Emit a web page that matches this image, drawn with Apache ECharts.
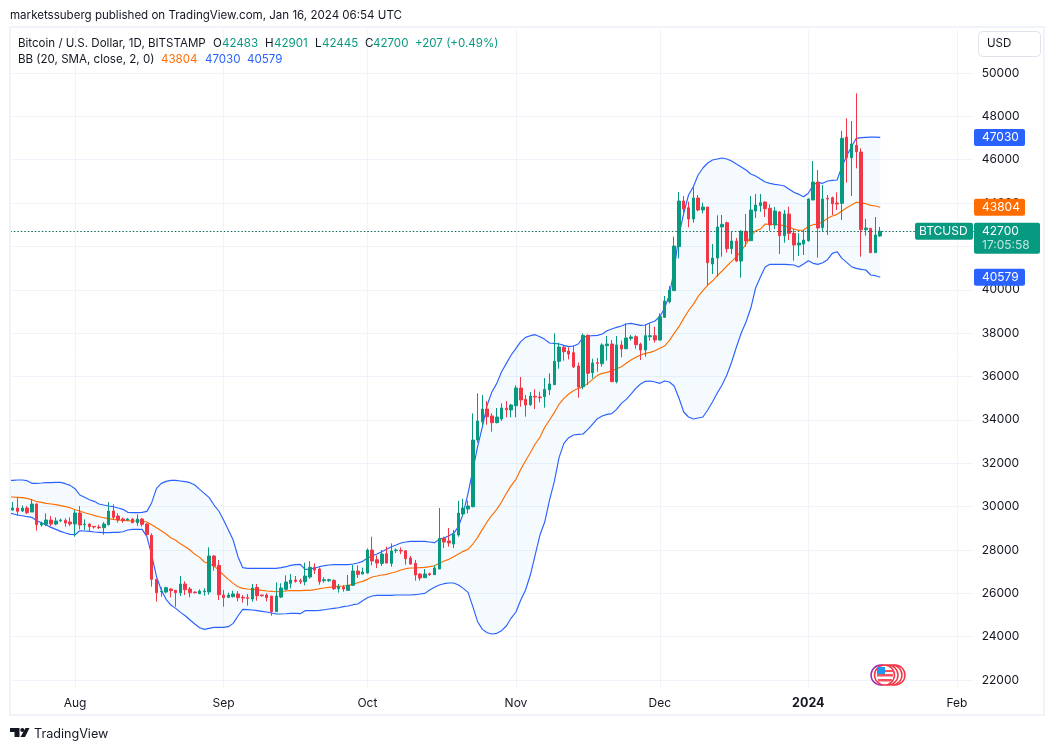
<!DOCTYPE html>
<html><head><meta charset="utf-8">
<style>html,body{margin:0;padding:0;background:#fff}#c{width:1054px;height:751px}</style>
<script src="https://cdn.jsdelivr.net/npm/echarts@6/dist/echarts.min.js"></script>
</head><body><div id="c"></div>
<script>
const opens=[29841,29933,29795,29933,29749,30118,29149,29180,29380,29195,
29349,29364,29287,29195,29702,29164,29195,29087,29057,29026,
29164,29795,29564,29426,29380,29426,29257,29426,29195,28672,
26642,26073,26058,26196,26135,26027,26427,26196,26058,25981,
26073,26058,27719,27288,25920,25812,25843,25966,25812,25797,
25735,26273,25920,25920,25874,25151,25827,26181,26458,26612,
26581,26535,26750,27196,27119,26581,26581,26597,26212,26289,
26135,26366,27027,26889,26935,27996,27550,27381,27827,27381,
27965,27980,27965,27627,27381,26889,26720,26904,26858,27119,
28534,28411,28273,28688,29657,29887,29995,33070,33916,34500,
34177,33870,34039,34531,34454,34654,35469,34946,34700,35085,
35054,35069,35392,35623,36699,37345,37176,37099,36484,35531,
37899,36176,36638,36592,37422,37499,35761,37453,37284,37760,
37837,37484,37222,37837,37883,37683,38728,39451,39959,41988,
44095,43787,43265,44233,43680,43818,41189,41465,42896,43095,
41896,42250,41327,42696,42265,43634,43880,44049,43757,42988,
43587,42496,43495,42603,42065,42111,42265,44141,44971,42865,
44218,44249,44003,43987,47047,46094,46663,46355,42772,42834,
41711,42483];
const closes=[29933,29779,29933,29718,30118,29164,29226,29380,29195,29333,
29380,29241,29195,29702,29149,29195,29072,29057,29026,29195,
29795,29503,29380,29349,29426,29257,29426,29180,28703,26642,
26027,26104,26258,26120,26027,26427,26166,26027,26027,26104,
26104,27719,27257,25935,25797,25920,25966,25797,25781,25766,
26243,25889,25889,25797,25151,25874,26243,26519,26612,26550,
26535,26796,27196,27073,26535,26627,26627,26212,26304,26197,
26366,27027,26873,26981,27996,27488,27396,27811,27396,27950,
27996,27950,27596,27350,26843,26704,26889,26858,27165,28534,
28365,28319,28734,29703,29933,30026,33070,33947,34500,34147,
33870,34131,34546,34470,34685,35469,34916,34685,35100,35054,
35023,35408,35654,36699,37360,37145,37038,36438,35515,37899,
36146,36622,36607,37453,37499,35761,37453,37268,37776,37822,
37468,37222,37883,37883,37683,38759,39482,39989,42019,44095,
43726,43265,44233,43680,43818,41250,41465,42896,43019,41896,
42250,41327,42696,42250,43680,43910,44018,43741,42988,43633,
42496,43495,42603,42065,42157,42296,44187,44971,42849,44187,
44187,43972,43956,46986,46094,46724,46371,42772,42849,41711,
42526,42700];
const lows=[29810,29564,29749,29656,29749,28887,29072,29103,29103,29133,
29287,29072,29103,28611,28949,28918,28826,28980,28964,28703,
29133,29410,29257,29257,29349,29241,29103,29072,28672,26304,
25612,25843,25997,25812,25381,25874,25920,25812,25997,25966,
25889,25935,27042,25689,25381,25797,25812,25628,25566,25428,
25612,25658,25843,25628,24966,25135,25781,26120,26227,26489,
26427,26366,26673,26889,26397,26489,26520,26151,26028,26074,
26105,26335,26704,26873,26919,27288,27165,27258,27381,27227,
27857,27811,27319,27319,26581,26581,26704,26796,26843,27119,
28088,28150,28088,28611,29534,29687,29964,32947,33716,33778,
33455,33839,33947,34116,34116,34116,34608,34147,34639,34500,
34808,34562,35146,35608,36361,36730,36792,36392,35023,35408,
35608,35915,36223,36453,36730,35761,35684,36884,37253,37653,
37284,36761,36915,37653,37560,37652,38713,39374,39959,41450,
43464,42880,43095,43618,43526,40220,40727,40604,41527,41712,
41650,41281,40558,41988,42265,43311,43603,43357,42726,42803,
41650,42173,42296,41342,41558,41604,42219,44141,41481,42680,
42526,43449,43680,43218,44941,44326,45602,41527,42496,41711,
41711,42445];
const highs=[30210,30425,30056,30025,30333,30148,29303,29687,29564,29503,
29441,29456,29503,29841,30025,29410,29226,29103,29164,29287,
30210,30102,29687,29503,29472,29456,29641,29472,29226,28764,
26642,26273,26304,26227,26150,26796,26550,26289,26073,26181,
26227,28119,27765,27534,26150,26027,26120,26104,25920,25966,
26427,26427,25935,25997,25874,26504,26458,26827,26888,26796,
26673,27412,27488,27381,27196,26735,26673,26643,26427,26381,
26843,27304,27288,27181,28073,28611,27750,27996,28150,28303,
28073,28119,27965,27719,27535,26919,27119,26950,27288,29933,
28611,29011,28918,30272,30364,30272,34300,35223,35146,34869,
34300,34546,34762,34869,34731,35592,35977,35146,35285,35408,
35300,35930,36146,37991,37560,37453,37345,37437,36638,37991,
37945,36822,36853,37530,37868,37683,37868,37653,38452,37914,
37899,37560,38421,38452,38298,38913,39712,40174,42450,44510,
44326,44064,44725,44372,44018,43818,42111,43434,43449,43142,
42696,42388,42757,43495,44326,44418,44418,44064,43941,43818,
43633,43680,43833,42803,42603,42757,44218,45940,45525,44833,
44372,44295,44495,47324,47908,47785,49062,46524,43264,42834,
43357,42901];
// Bollinger values: first entry is the day before the first visible candle
const bbUpper=[31210,31209,31225,31225,31194,31071,31071,31086,31102,31102,31117,
31117,31056,30979,30825,30533,30425,30317,30241,30118,30071,
30025,29995,29933,29872,29733,29718,29718,29733,29779,30179,
30840,31071,31163,31209,31209,31179,31148,31102,30994,30794,
30610,30410,30071,29795,29380,28918,28457,27688,27181,27150,
27150,27150,27150,27150,27150,27150,27181,27227,27288,27319,
27335,27104,27119,27165,27227,27273,27304,27319,27319,27319,
27319,27350,27396,27473,27611,27734,27811,27919,28027,28150,
28227,28319,28365,28396,28396,28396,28396,28365,28334,28488,
28549,28657,28765,29072,29687,30610,31686,32763,33685,34685,
35300,35684,36223,36607,36991,37299,37606,37806,37883,37929,
37837,37714,37545,37530,37499,37437,37376,37407,37499,37806,
37868,37883,37899,37960,38114,38191,38268,38329,38421,38452,
38406,38360,38375,38483,38560,38759,39144,39759,40912,42527,
43526,44372,44756,45294,45618,45848,45987,46033,46079,46033,
45941,45802,45664,45525,45341,45249,45110,44972,44910,44864,
44833,44787,44633,44495,44402,44295,44449,44833,44956,44910,
45017,45048,45063,45679,46186,46601,46986,47016,47032,47040,
47040,47030];
const bbMid=[30450,30440,30425,30410,30379,30317,30225,30194,30148,30118,30087,
30041,29995,29948,29856,29795,29718,29656,29595,29533,29487,
29441,29410,29380,29364,29349,29333,29333,29333,29287,29164,
29026,28887,28734,28565,28442,28288,28149,27996,27796,27657,
27442,27365,27257,27073,26842,26642,26458,26304,26227,26196,
26181,26166,26135,26104,26089,26073,26089,26104,26120,26120,
26120,26135,26135,26166,26212,26243,26274,26304,26320,26335,
26366,26412,26489,26550,26643,26750,26796,26843,26873,26935,
26996,27073,27135,27165,27165,27181,27196,27227,27273,27381,
27488,27565,27688,27811,27934,28027,28273,28580,28949,29303,
29610,29872,30210,30610,30964,31256,31717,32117,32486,32886,
33193,33655,33993,34331,34731,34992,35192,35346,35454,35531,
35684,35869,36053,36146,36192,36269,36361,36453,36607,36761,
36884,36991,37068,37114,37191,37299,37406,37652,37990,38298,
38682,39036,39328,39682,39959,40220,40404,40650,40866,41096,
41312,41527,41788,42111,42450,42726,42800,43034,43018,43018,
42988,42957,42895,42803,42742,42757,42926,43003,43034,43141,
43295,43403,43480,43633,43787,43910,44033,44018,43972,43895,
43864,43804];
const bbLower=[29690,29672,29610,29579,29533,29503,29349,29257,29149,29041,28949,
28857,28780,28718,28703,28887,28872,28857,28826,28811,28796,
28796,28811,28811,28841,28918,28949,28949,28949,28611,27765,
26765,26150,25720,25458,25305,25120,24966,24766,24582,24413,
24336,24382,24428,24428,24428,24459,24613,24951,25258,25243,
25228,25197,25166,25135,25089,25043,25043,25058,25074,25074,
25060,25197,25197,25197,25212,25243,25274,25304,25335,25382,
25412,25474,25505,25658,25797,25874,25905,25905,25905,25905,
25920,25920,25920,25920,25935,25966,25997,26151,26274,26381,
26443,26474,26474,26381,26227,26043,25382,24690,24336,24182,
24121,24152,24275,24490,24859,25136,25690,26150,26843,27765,
28688,29287,30302,31148,32271,32916,33178,33301,33332,33347,
33562,33808,34054,34177,34254,34285,34485,34762,34946,35192,
35454,35654,35777,35792,35746,35684,35792,35746,35561,35008,
34362,34131,34039,34085,34131,34454,34823,35238,35608,36069,
36668,37360,38006,38514,39159,40082,40590,41050,41173,41173,
41173,41173,41158,41142,41050,41189,41342,41219,41173,41250,
41389,41681,41757,41450,41265,41065,40988,40943,40912,40681,
40650,40579];
const monthTicks={'2023-08-01':'Aug','2023-09-01':'Sep','2023-10-01':'Oct','2023-11-01':'Nov','2023-12-01':'Dec','2024-01-01':'2024','2024-02-01':'Feb'};
const lastClose=42700, tagUpper=47030, tagMid=43804, tagLower=40579;

const GREEN='#089981',RED='#f23645',BLUE='#2962ff',ORANGE='#ff6d00',GRID='#f0f3fa',INK='#131722',FONT='Inter, "Noto Sans", sans-serif';
const TOTAL_DAYS=202;
const categories=[];
for(let i=0;i<TOTAL_DAYS;i++){categories.push(new Date(Date.UTC(2023,6,18+i)).toISOString().slice(0,10));}
const candleRows=[['-','-','-','-']].concat(opens.map((o,i)=>[o,closes[i],lows[i],highs[i]]));
const bandWidth=bbUpper.map((u,i)=>u-bbLower[i]);
const isTick=(i,v)=>v in monthTicks;

const chart=echarts.init(document.getElementById('c'),null,{renderer:'canvas'});
const plainLine=(name,data,color)=>({name,type:'line',data,symbol:'none',silent:true,z:2,lineStyle:{color,width:1.15},itemStyle:{color}});
chart.setOption({
 animation:false,backgroundColor:'#fff',textStyle:{fontFamily:FONT},
 grid:{left:10.3,top:29.64,width:963.4,height:650.36,containLabel:false},
 xAxis:{type:'category',data:categories,min:1,boundaryGap:true,
  axisLine:{show:false},
  axisTick:{show:true,alignWithLabel:true,length:8,interval:isTick,lineStyle:{color:GRID,width:1}},
  splitLine:{show:true,alignWithLabel:true,interval:isTick,lineStyle:{color:GRID,width:1}},
  axisLabel:{interval:isTick,margin:17,color:INK,fontSize:12,fontFamily:FONT,hideOverlap:false,
   formatter:v=>{const t=monthTicks[v];return t==='2024'?'{b|2024}':(t||'');},
   rich:{b:{fontWeight:'bold',fontSize:12.5,color:INK,fontFamily:FONT}}}},
 yAxis:{type:'value',position:'right',min:22000,max:52000,interval:2000,scale:true,
  axisLine:{show:false},axisTick:{show:false},
  splitLine:{show:true,showMaxLine:false,lineStyle:{color:GRID,width:1}},
  axisLabel:{margin:8,color:INK,fontSize:12,fontFamily:FONT,showMaxLabel:false,padding:[2,0,0,0],formatter:v=>String(v)}},
 series:[
  {name:'bandBase',type:'line',stack:'bb',data:bbLower,symbol:'none',silent:true,lineStyle:{opacity:0},z:1},
  {name:'bandFill',type:'line',stack:'bb',data:bandWidth,symbol:'none',silent:true,lineStyle:{opacity:0},areaStyle:{color:'rgba(33,150,243,0.05)',opacity:1},z:1},
  plainLine('Upper',bbUpper,BLUE),
  plainLine('Lower',bbLower,BLUE),
  plainLine('Basis',bbMid,ORANGE),
  {name:'BTCUSD',type:'candlestick',data:candleRows,barWidth:3,z:3,silent:true,
   itemStyle:{color:GREEN,color0:RED,borderColor:GREEN,borderColor0:RED,borderWidth:1},
   markLine:{silent:true,symbol:'none',animation:false,label:{show:false},
    lineStyle:{color:'#0b6b5c',type:[1.5,2],width:1.2},data:[{yAxis:lastClose}]}}
 ]
});

const yOf=v=>chart.convertToPixel({yAxisIndex:0},v);
const TS=11.55;
const txt=(x,y,text,fill,size,extra)=>({type:'text',x,y,z:50,style:Object.assign({text,fill,font:(size||TS)+'px '+FONT,textVerticalAlign:'middle',textAlign:'left'},extra||{})});
const rect=(x,y,w,h,fill,r)=>({type:'rect',z:49,shape:{x,y,width:w,height:h,r:r||0},style:{fill}});
const tag=(v,color)=>{const y=yOf(v);return [rect(974,y-8.5,51,17,color,2),txt(982,y+0.5,String(v),'#fff',12)];};
const priceY=yOf(lastClose);
const elems=[
 {type:'rect',z:40,shape:{x:10,y:27,width:1034,height:688},style:{fill:'none',stroke:GRID,lineWidth:2}},
 txt(10,16,'marketssuberg published on TradingView.com, Jan 16, 2024 06:54 UTC',INK),
 txt(18,43.5,'Bitcoin / U.S. Dollar, 1D, BITSTAMP',INK),
 txt(213,43.5,'O',INK),txt(222,43.5,'42483',GREEN),
 txt(265,43.5,'H',INK),txt(274,43.5,'42901',GREEN),
 txt(315,43.5,'L',INK),txt(322,43.5,'42445',GREEN),
 txt(365,43.5,'C',INK),txt(373,43.5,'42700',GREEN),
 txt(415,43.5,'+207 (+0.49%)',GREEN),
 txt(18,60,'BB (20, SMA, close, 2, 0)',INK),
 txt(161,60,'43804',ORANGE),txt(205,60,'47030',BLUE),txt(247,60,'40579',BLUE),
 {type:'rect',z:49,shape:{x:978.5,y:31.5,width:62,height:25,r:4},style:{fill:'#fff',stroke:'#e0e3eb',lineWidth:1}},
 txt(987,44,'USD',INK),
 ...tag(tagUpper,BLUE),...tag(tagMid,ORANGE),...tag(tagLower,BLUE),
 rect(915,priceY-8.5,58,17,GREEN,2),
 txt(919,priceY+0.5,'BTCUSD','#fff',12),
 rect(974,priceY-8.5,66,31,GREEN,2),
 txt(982,priceY+0.5,String(lastClose),'#fff',12),
 txt(982,priceY+14.5,'17:05:58','rgba(255,255,255,0.75)',12),
 // event markers
 {type:'circle',z:45,shape:{cx:881,cy:675,r:10},style:{fill:'#fff',stroke:'#9c27b0',lineWidth:1.5}},
 {type:'circle',z:45,shape:{cx:895,cy:675,r:10},style:{fill:'#fff',stroke:'#f23645',lineWidth:1.5}},
 {type:'circle',z:45,shape:{cx:892,cy:675,r:10},style:{fill:'#fff',stroke:'#f23645',lineWidth:1.5}},
 {type:'circle',z:45,shape:{cx:888,cy:675,r:10},style:{fill:'#fff',stroke:'#f23645',lineWidth:1.5}},
 {type:'circle',z:45,shape:{cx:884.5,cy:675,r:10},style:{fill:'#fff',stroke:'#f23645',lineWidth:1.5}},
 {type:'rect',z:46,shape:{x:877,y:670,width:16,height:2},style:{fill:'#f7525f'}},
 {type:'rect',z:46,shape:{x:877,y:674,width:16,height:2.5},style:{fill:'#f7525f'}},
 {type:'rect',z:46,shape:{x:878,y:679,width:14,height:2.5},style:{fill:'#f7525f'}},
 {type:'rect',z:47,shape:{x:877,y:667,width:8,height:7},style:{fill:'#2196f3'}},
 // brand mark
 {type:'polygon',z:50,shape:{points:[[10,728],[19.5,728],[19.5,737],[14.5,737],[14.5,732],[10,732]]},style:{fill:INK}},
 {type:'circle',z:50,shape:{cx:22.3,cy:730,r:2},style:{fill:INK}},
 {type:'polygon',z:50,shape:{points:[[25.5,728],[29.5,728],[25,737],[20.5,737]]},style:{fill:INK}},
 txt(34,734,'TradingView',INK,12.6),
];
chart.setOption({graphic:{elements:elems}});
</script></body></html>
